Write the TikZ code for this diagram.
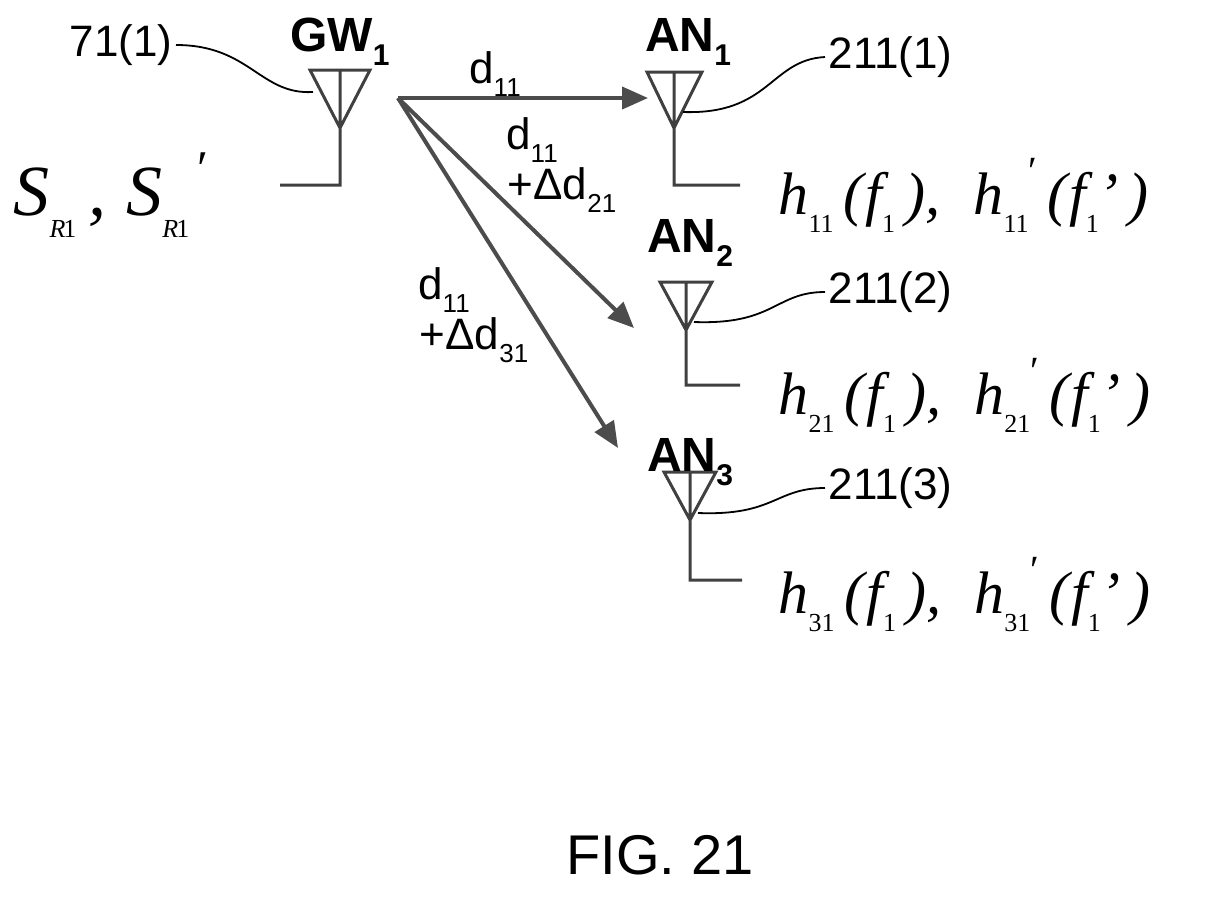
\documentclass[tikz,border=0pt]{standalone}
\usepackage{fontspec}
\setmainfont{Liberation Sans}
\newfontfamily\serifit{Liberation Serif}[ItalicFont=* Italic]
\usetikzlibrary{arrows.meta}
\newcommand{\lo}[1]{\raisebox{-0.3em}{\fontsize{26}{26}\selectfont\upshape #1}}
\newcommand{\los}[1]{\raisebox{-0.3em}{\fontsize{30}{30}\selectfont #1}}
\begin{document}
\begin{tikzpicture}[x=1pt,y=-1pt,
  ant/.style={line width=3pt,gray!50!black},
  lbl/.style={font=\fontsize{44}{44}\selectfont},
  nm/.style={font=\fontsize{48}{48}\selectfont\bfseries},
  arr/.style={line width=4pt,draw=gray!60!black,-{Triangle[length=26pt,width=22pt]}},
  lead/.style={line width=1.8pt},
  hh/.style={font=\fontsize{60}{60}\selectfont\serifit\itshape,anchor=west}]
\useasboundingbox (0,0) rectangle (1216,898);
% GW
\draw[ant] (310,70) -- (370,70) -- (340,128) -- cycle (340,70) -- (340,185) -- (280,185);
\coordinate (gwtip) at (313,92);
\node[nm] (gw) at (340,42) {GW\los{1}};
\node[lbl,anchor=east] (l71) at (176,45) {71(1)};
\draw[lead] (l71.east) .. controls (250,45) and (260,95) .. (gwtip);
\node[font=\fontsize{72}{72}\selectfont\serifit\itshape,anchor=west] (s) at (10,195) {S\lo{\textit{R}\kern-2pt 1}\,,\;S\lo{\textit{R}\kern-2pt 1}\hspace{8pt}\raisebox{30pt}{\upshape\fontsize{50}{50}\selectfont ′}};
% AN1
\draw[ant] (647,72) -- (702,72) -- (674,128) -- cycle (674,72) -- (674,185) -- (740,185);
\node[nm] (an1) at (688,42) {AN\los{1}};
\coordinate (a1) at (683,112);
\node[lbl,anchor=west] (l1) at (825,57) {211(1)};
\draw[lead] (a1) .. controls (770,115) and (770,60) .. (l1.west);
\node[hh] (h1) at (775,195) {h\lo{11}\,(\kern2pt f\lo{1}\,),\;\;h\lo{11}\raisebox{30pt}{\upshape\fontsize{40}{40}\selectfont ′}\,(\kern2pt f\lo{1}’\,)};
% AN2
\draw[ant] (660,282) -- (712,282) -- (686,330) -- cycle (686,282) -- (686,385) -- (740,385);
\node[nm] (an2) at (690,243) {AN\los{2}};
\coordinate (a2) at (694,322);
\node[lbl,anchor=west] (l2) at (825,292) {211(2)};
\draw[lead] (a2) .. controls (775,325) and (775,292) .. (l2.west);
\node[hh] (h2) at (775,395) {h\lo{21}\,(\kern2pt f\lo{1}\,),\;\;h\lo{21}\raisebox{30pt}{\upshape\fontsize{40}{40}\selectfont ′}\,(\kern2pt f\lo{1}’\,)};
% AN3
\draw[ant] (664,472) -- (716,472) -- (690,520) -- cycle (690,472) -- (690,580) -- (742,580);
\node[nm] (an3) at (690,462) {AN\los{3}};
\coordinate (a3) at (698,513);
\node[lbl,anchor=west] (l3) at (825,488) {211(3)};
\draw[lead] (a3) .. controls (775,516) and (775,488) .. (l3.west);
\node[hh] (h3) at (775,595) {h\lo{31}\,(\kern2pt f\lo{1}\,),\;\;h\lo{31}\raisebox{30pt}{\upshape\fontsize{40}{40}\selectfont ′}\,(\kern2pt f\lo{1}’\,)};
% arrows
\coordinate (src) at (398,98);
\coordinate (t1) at (648,98);
\coordinate (t2) at (634,328);
\coordinate (t3) at (618,448);
\draw[arr] (src) -- (t1);
\draw[arr] (src) -- (t2);
\draw[arr] (src) -- (t3);
\node[lbl] (d1) at (495,74) {d\lo{11}};
\node[lbl] (d2a) at (532,140) {d\lo{11}};
\node[lbl] (d2b) at (562,190) {+Δd\lo{21}};
\node[lbl] (d3a) at (444,290) {d\lo{11}};
\node[lbl] (d3b) at (474,340) {+Δd\lo{31}};
\node[font=\fontsize{56}{56}\selectfont] (fig) at (660,855) {FIG. 21};
\end{tikzpicture}
\end{document}
